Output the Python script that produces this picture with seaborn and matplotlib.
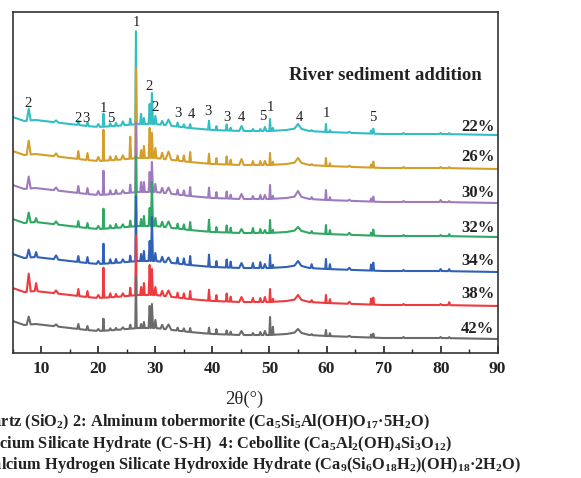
import numpy as np
import pandas as pd
import matplotlib
matplotlib.use('Agg')
import matplotlib.pyplot as plt
from matplotlib.ticker import MultipleLocator
import seaborn as sns

# samples, top to bottom
samples = ['22%', '26%', '30%', '32%', '34%', '38%', '42%']
colors = ['#33BEC3', '#D39E2A', '#9E7BBE', '#2EA862', '#3161B7', '#EE3B40', '#6B6B6B']
# stacking offset of each pattern (level at 90 deg)
offsets = [218, 184, 150, 116, 81, 47, 14]

# shared background shape above the offset
bg_x = [5, 7, 9, 12, 15, 18, 20, 23, 25, 27, 30, 33, 36, 40, 45, 50, 53, 55, 57, 60, 65, 70, 80, 90]
bg_y = [18, 14, 15, 13, 11, 9, 8, 9, 10, 11, 11, 9, 7, 5, 4, 4, 5, 7, 4, 3, 2, 1, 1, 0]

# peak positions (2theta), half widths
peak_pos = [7.8, 9.1, 12.6, 16.5, 18.1, 20.0, 20.9, 22.1, 23.1, 24.3, 25.6, 26.6, 27.5, 28.0,
            29.0, 29.4, 30.0, 31.2, 32.3, 33.9, 35.0, 36.1, 39.4, 40.7, 42.5, 43.2, 45.1, 47.1,
            48.4, 49.2, 50.1, 50.6, 55.0, 57.4, 59.9, 60.6, 64.0, 67.8, 68.2, 73.5, 80.0, 81.5]
peak_w = [0.35, 0.25, 0.4, 0.2, 0.2, 0.3, 0.12, 0.2, 0.2, 0.3, 0.15, 0.12, 0.15, 0.15,
          0.18, 0.18, 0.2, 0.3, 0.5, 0.2, 0.2, 0.15, 0.15, 0.15, 0.15, 0.15, 0.4, 0.2,
          0.2, 0.25, 0.12, 0.12, 0.6, 0.2, 0.12, 0.15, 0.3, 0.12, 0.15, 0.2, 0.2, 0.2]

heights = {
    '22%': [12, 0, 2, 4, 4, 3, 13, 3, 3, 4, 6, 93, 10, 6, 20, 31, 8, 4, 6, 4, 3, 4, 9, 4, 6, 3, 5, 2, 2, 4, 12, 3, 4, 1, 8, 2, 1, 3, 5, 1, 1, 1],
    '26%': [14, 0, 3, 8, 7, 4, 31, 4, 4, 4, 22, 90, 8, 12, 30, 25, 10, 6, 8, 5, 6, 10, 10, 6, 8, 5, 6, 4, 4, 4, 12, 3, 4, 1, 8, 3, 1, 3, 6, 1, 1, 1],
    '30%': [12, 0, 3, 7, 6, 4, 24, 4, 4, 3, 8, 70, 10, 10, 20, 30, 8, 5, 6, 5, 5, 9, 10, 6, 7, 4, 5, 3, 4, 4, 14, 3, 5, 2, 10, 3, 1, 3, 5, 1, 2, 1],
    '32%': [10, 4, 3, 6, 5, 3, 20, 3, 4, 3, 6, 70, 7, 10, 18, 44, 8, 5, 6, 5, 5, 8, 12, 5, 7, 5, 4, 5, 4, 3, 13, 3, 3, 2, 9, 4, 2, 3, 6, 1, 1, 2],
    '34%': [8, 5, 4, 6, 6, 3, 20, 4, 4, 3, 6, 65, 7, 10, 20, 44, 8, 5, 5, 6, 6, 9, 12, 6, 8, 6, 5, 5, 6, 4, 13, 3, 4, 4, 10, 5, 2, 6, 8, 1, 2, 2],
    '38%': [18, 8, 3, 7, 6, 3, 30, 4, 3, 3, 8, 60, 8, 12, 30, 26, 8, 5, 6, 5, 5, 8, 11, 6, 8, 5, 5, 4, 4, 5, 13, 3, 4, 2, 8, 4, 2, 6, 7, 1, 1, 3],
    '42%': [8, 0, 2, 5, 4, 2, 12, 2, 2, 2, 4, 52, 4, 6, 22, 24, 8, 4, 5, 3, 3, 4, 6, 5, 4, 3, 4, 2, 3, 4, 18, 8, 3, 1, 6, 3, 1, 3, 4, 1, 1, 1],
}

# phase numbers over the 22% pattern: (2theta, height, label)
mark_x = [7.7, 16.5, 17.9, 20.9, 22.1, 26.6, 28.9, 30.0, 33.9, 36.3, 39.3, 42.5, 45.1, 48.9, 50.2, 55.3, 60.0, 68.1]
mark_y = [249, 234, 234, 244, 234, 330, 266, 245, 239, 238, 241, 235, 235, 236, 245, 235, 239, 235]
mark_t = ['2', '2', '3', '1', '5', '1', '2', '2', '3', '4', '3', '3', '4', '5', '1', '4', '1', '5']

label_y = [226, 196, 160, 125, 92, 59, 24]

legend_lines = [
    r'1: Quartz (SiO$_2$) 2: Alminum tobermorite (Ca$_5$Si$_5$Al(OH)O$_{17}$·5H$_2$O)',
    r'3: Calcium Silicate Hydrate (C-S-H)  4: Cebollite (Ca$_5$Al$_2$(OH)$_4$Si$_3$O$_{12}$)',
    r'5: Calcium Hydrogen Silicate Hydroxide Hydrate (Ca$_9$(Si$_6$O$_{18}$H$_2$)(OH)$_{18}$·2H$_2$O)',
]

rows = []
for s, off in zip(samples, offsets):
    xs = [x for x in bg_x if not any(abs(x - p) < w for p, w in zip(peak_pos, peak_w))]
    pts = {x: 0.0 for x in xs}
    for p, w, h in zip(peak_pos, peak_w, heights[s]):
        pts.setdefault(round(p - w, 3), 0.0)
        pts[round(p, 3)] = h
        pts.setdefault(round(p + w, 3), 0.0)
    for x in sorted(pts):
        rows.append({'sample': s, 'two_theta': x,
                     'intensity': off + np.interp(x, bg_x, bg_y) + pts[x]})
df = pd.DataFrame(rows)

sns.set_style('ticks')
plt.rcParams['font.family'] = ['Liberation Serif', 'DejaVu Serif']
plt.rcParams['mathtext.fontset'] = 'custom'
plt.rcParams['mathtext.rm'] = 'Liberation Serif:bold'
plt.rcParams['mathtext.it'] = 'Liberation Serif:bold'
plt.rcParams['mathtext.bf'] = 'Liberation Serif:bold'

fig = plt.figure(figsize=(5.81, 4.78), dpi=100)
ax = fig.add_axes([0.0219, 0.2615, 0.8347, 0.7134])

sns.lineplot(data=df, x='two_theta', y='intensity', hue='sample', hue_order=samples,
             palette=colors, estimator=None, linewidth=1.5, legend=False, ax=ax)

ax.set_xlim(5, 90)
ax.set_ylim(0, 341)
ax.set_yticks([])
ax.xaxis.set_major_locator(MultipleLocator(10))
ax.xaxis.set_minor_locator(MultipleLocator(5))
ax.tick_params(axis='x', which='major', direction='in', length=5, width=1.2, colors='#222222', pad=6)
ax.tick_params(axis='x', which='minor', direction='in', length=3, width=1.0, colors='#222222')
for lab in ax.get_xticklabels():
    lab.set_fontweight('bold')
    lab.set_fontsize(12.5)
for sp in ax.spines.values():
    sp.set_color('#333333')
    sp.set_linewidth(1.2)
    sp.set_visible(True)

ax.set_ylabel('')
ax.set_xlabel('2θ(°)', fontsize=13.5)
ax.xaxis.set_label_coords(0.477, -0.11)

for x, y, t in zip(mark_x, mark_y, mark_t):
    ax.text(x, y, t, fontsize=10.5, ha='center', va='center', color='#222222')

for s, y in zip(samples, label_y):
    ax.text(89.4, y, s, fontsize=12, fontweight='bold', ha='right', va='center', color='#222222')

ax.text(0.768, 0.815, 'River sediment addition', transform=ax.transAxes, fontsize=13.5,
        fontweight='bold', ha='center', va='center', color='#222222')

# key lines are cropped at the left edge, as in the source figure
for txt, xr, yc in zip(legend_lines, [430, 452, 521], [422, 444, 465]):
    fig.text(xr / 581, 1 - yc / 478, txt, fontsize=11.8, fontweight='bold', ha='right', va='center',
             color='#222222')

fig.savefig('out.png', dpi=100)
